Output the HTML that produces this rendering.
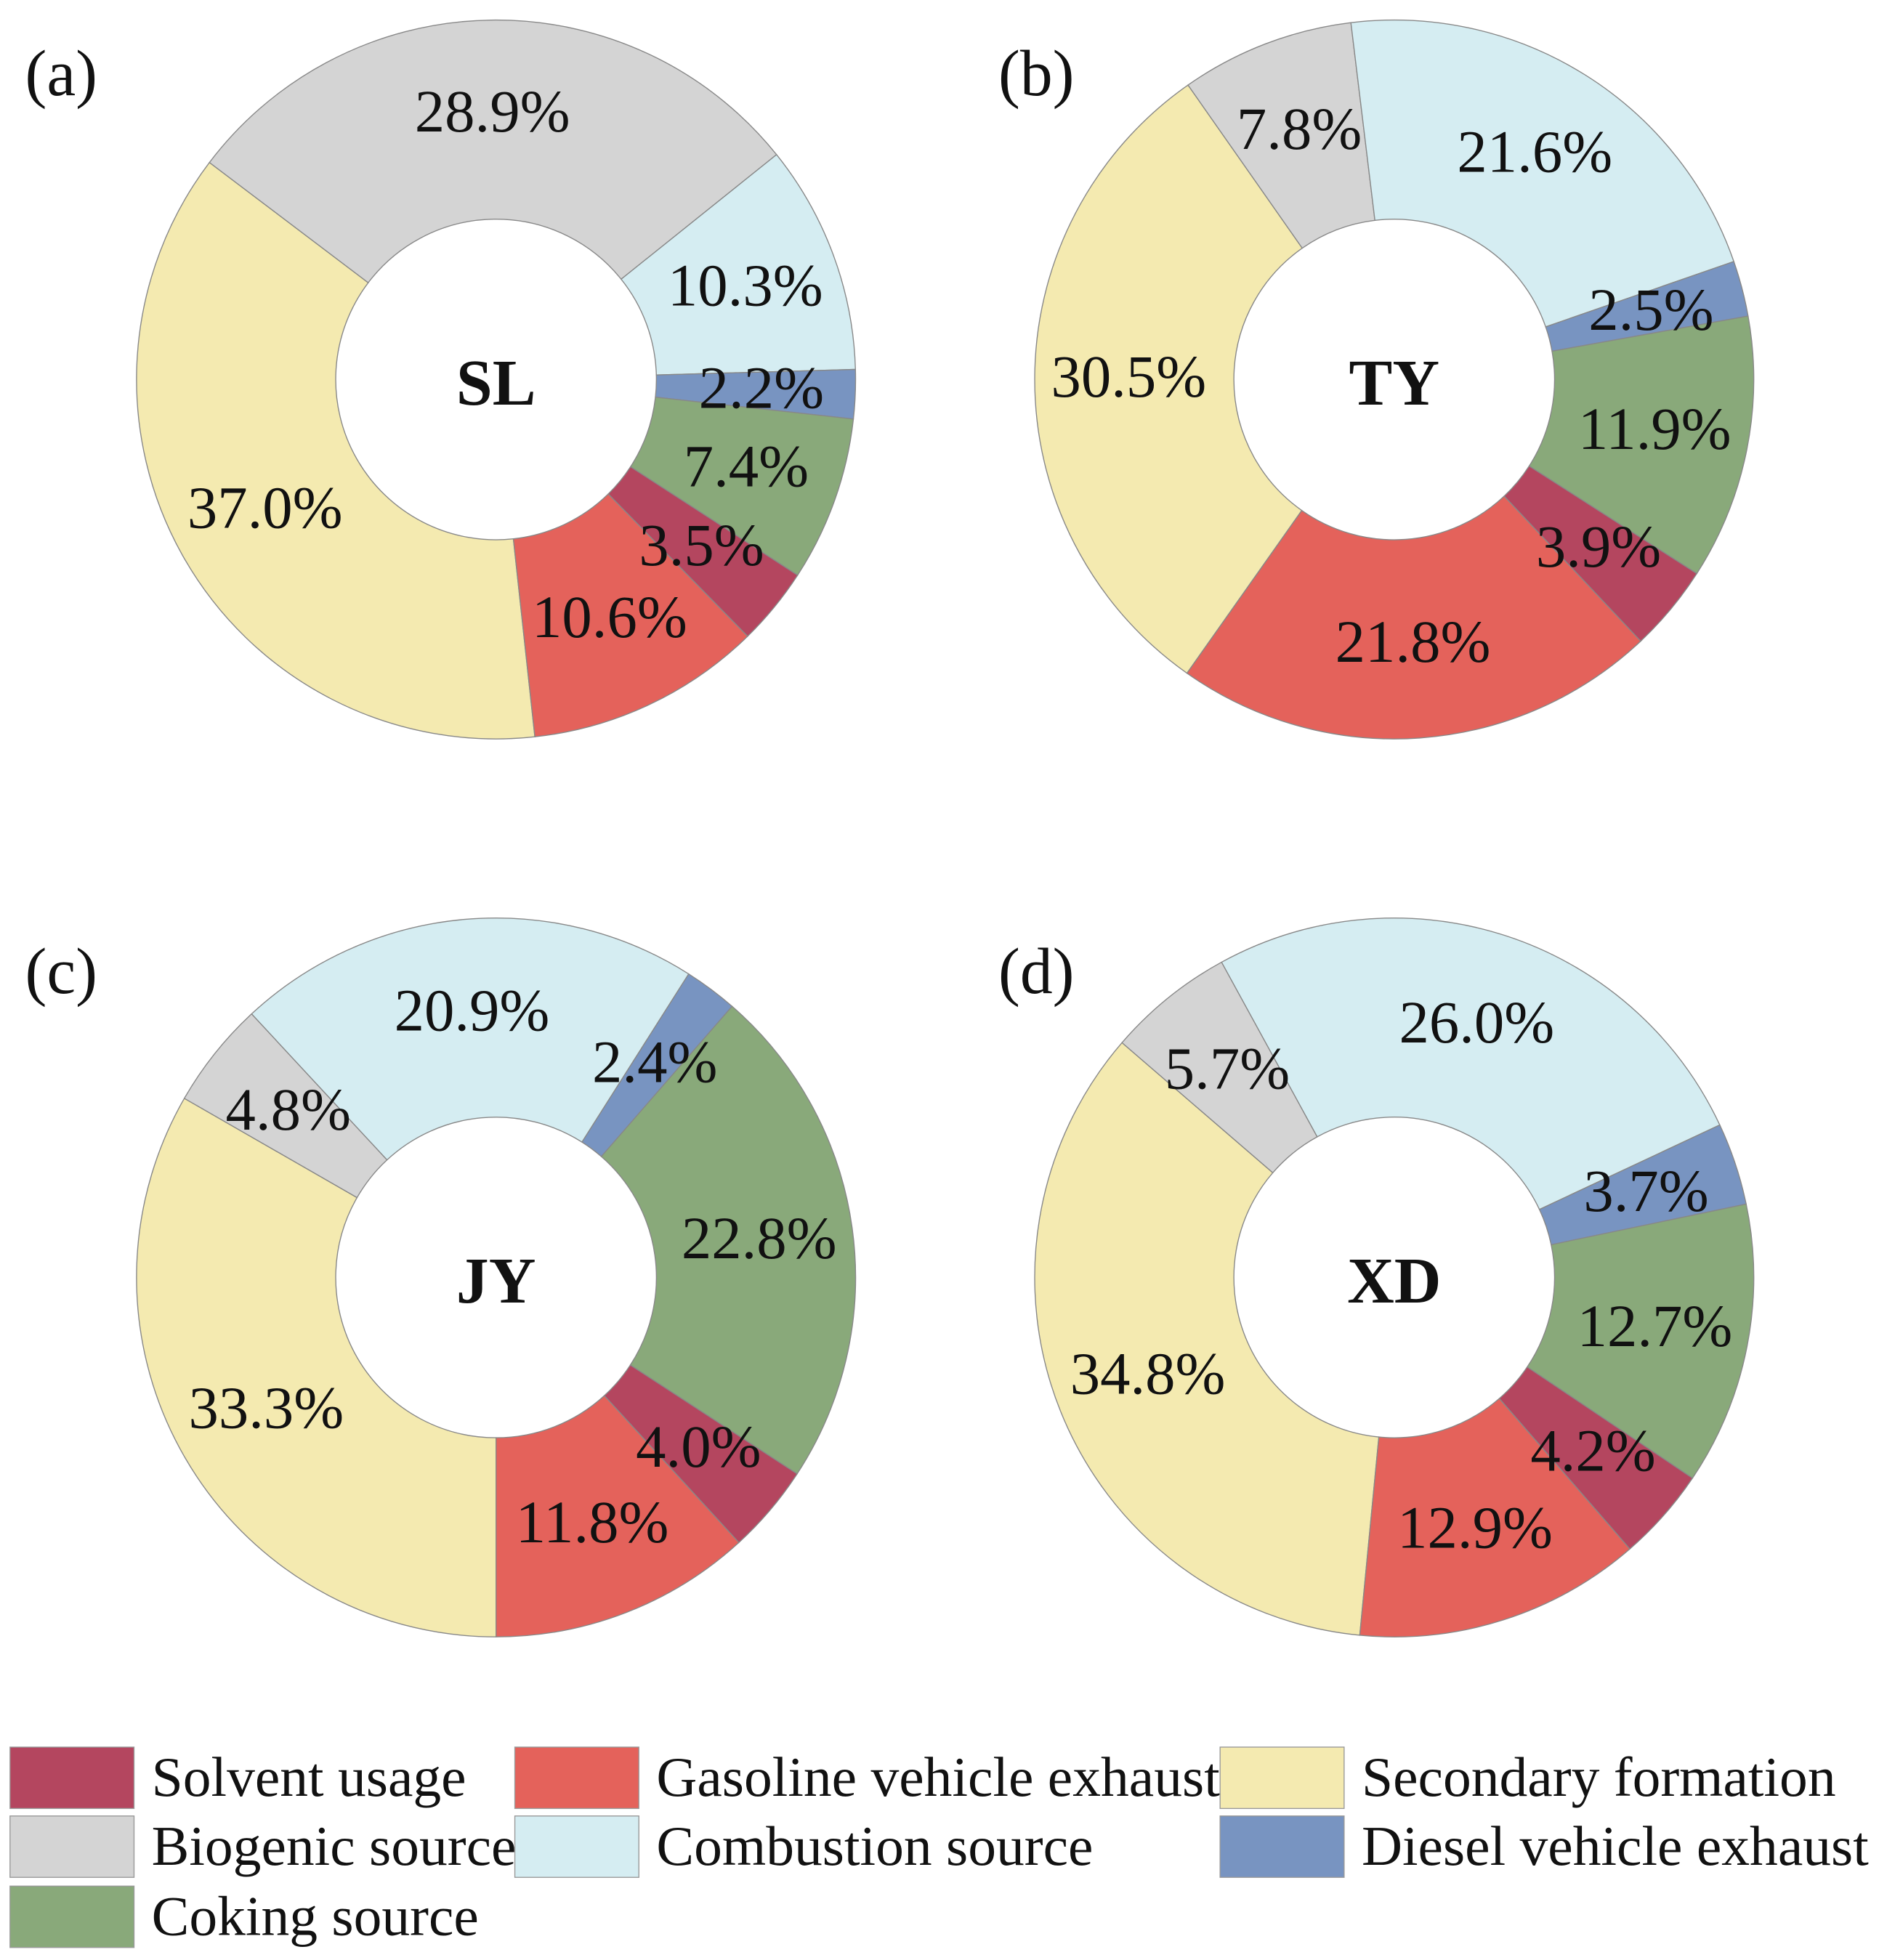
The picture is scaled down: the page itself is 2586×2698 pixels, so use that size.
<!DOCTYPE html>
<html><head><meta charset="utf-8"><style>
html,body{margin:0;padding:0;background:#fff;}
svg{display:block;}
text{font-family:"Liberation Serif",serif;fill:#111;}
</style></head><body>
<svg id="fig" width="2586" height="2698" viewBox="0 0 1500 1565" preserveAspectRatio="none" xmlns="http://www.w3.org/2000/svg">
</svg>
<script>
const categories = ["Secondary formation","Biogenic source","Combustion source","Diesel vehicle exhaust","Coking source","Solvent usage","Gasoline vehicle exhaust"];
const sites = ["SL","TY","JY","XD"];
const panelLetters = ["(a)","(b)","(c)","(d)"];
const valuesSL = [37.0,28.9,10.3,2.2,7.4,3.5,10.6];
const valuesTY = [30.5,7.8,21.6,2.5,11.9,3.9,21.8];
const valuesJY = [33.3,4.8,20.9,2.4,22.8,4.0,11.8];
const valuesXD = [34.8,5.7,26.0,3.7,12.7,4.2,12.9];
const startAngles = [173.8,215.2,180.0,185.5];
const legendOrder = ["Solvent usage","Gasoline vehicle exhaust","Secondary formation","Biogenic source","Combustion source","Diesel vehicle exhaust","Coking source"];

const colors = {"Secondary formation":"#f4eab0","Biogenic source":"#d4d4d4","Combustion source":"#d5edf2","Diesel vehicle exhaust":"#7894c1","Coking source":"#89a97a","Solvent usage":"#b4465f","Gasoline vehicle exhaust":"#e4625b"};
const NS="http://www.w3.org/2000/svg";
const svg=document.getElementById('fig');
function mk(tag,attrs){const e=document.createElementNS(NS,tag);for(const k in attrs)e.setAttribute(k,attrs[k]);return e;}
const allVals=[valuesSL,valuesTY,valuesJY,valuesXD];
const centers=[[396,303],[1113,303],[396,1020],[1113,1020]];
const letterX=[20,797];
const R=287, r0=128, rl=212;
function pt(cx,cy,rad,deg){const a=deg*Math.PI/180;return [cx+rad*Math.sin(a),cy-rad*Math.cos(a)];}
allVals.forEach((vals,i)=>{
  const [cx,cy]=centers[i];
  const g=mk('g',{});
  
  
  svg.appendChild(g);
  const total=vals.reduce((a,b)=>a+b,0);
  let ang=startAngles[i];
  vals.forEach((v,j)=>{
    const sweep=v/total*360, a1=ang, a2=ang+sweep;
    const p1=pt(cx,cy,R,a1),p2=pt(cx,cy,R,a2),p3=pt(cx,cy,r0,a2),p4=pt(cx,cy,r0,a1);
    const lg=sweep>180?1:0;
    const d=`M${p1[0]},${p1[1]} A${R},${R} 0 ${lg} 1 ${p2[0]},${p2[1]} L${p3[0]},${p3[1]} A${r0},${r0} 0 ${lg} 0 ${p4[0]},${p4[1]} Z`;
    const path=mk('path',{d:d,fill:colors[categories[j]],stroke:'#888','stroke-width':0.8});
    
    
    g.appendChild(path);
    ang=a2;
  });
  ang=startAngles[i];
  vals.forEach((v,j)=>{
    const sweep=v/total*360, mid=ang+sweep/2;
    const p=pt(cx,cy,rl,mid);
    const t=mk('text',{x:p[0],y:p[1]+14,'text-anchor':'middle','font-size':48});
    t.textContent=v.toFixed(1)+'%';
    
    
    g.appendChild(t);
    ang+=sweep;
  });
  const c=mk('text',{x:cx,y:cy+20,'text-anchor':'middle','font-size':52,'font-weight':'bold'});
  c.textContent=sites[i];
  
  
  g.appendChild(c);
  const L=mk('text',{x:letterX[i%2],y:cy-227,'font-size':52});
  L.textContent=panelLetters[i];
  
  
  svg.appendChild(L);
});
const lg=mk('g',{});


svg.appendChild(lg);
const colX=[8,411,974], rowY=[1395,1450,1506];
legendOrder.forEach((name,k)=>{
  const col=k%3,row=Math.floor(k/3);
  const x=colX[col],y=rowY[row];
  const rc=mk('rect',{x:x,y:y,width:99,height:49,fill:colors[name],stroke:'#999','stroke-width':0.8});
  
  
  lg.appendChild(rc);
  const t=mk('text',{x:x+113,y:y+39,'font-size':45});
  t.textContent=name;
  
  
  lg.appendChild(t);
});
</script>
</body></html>
